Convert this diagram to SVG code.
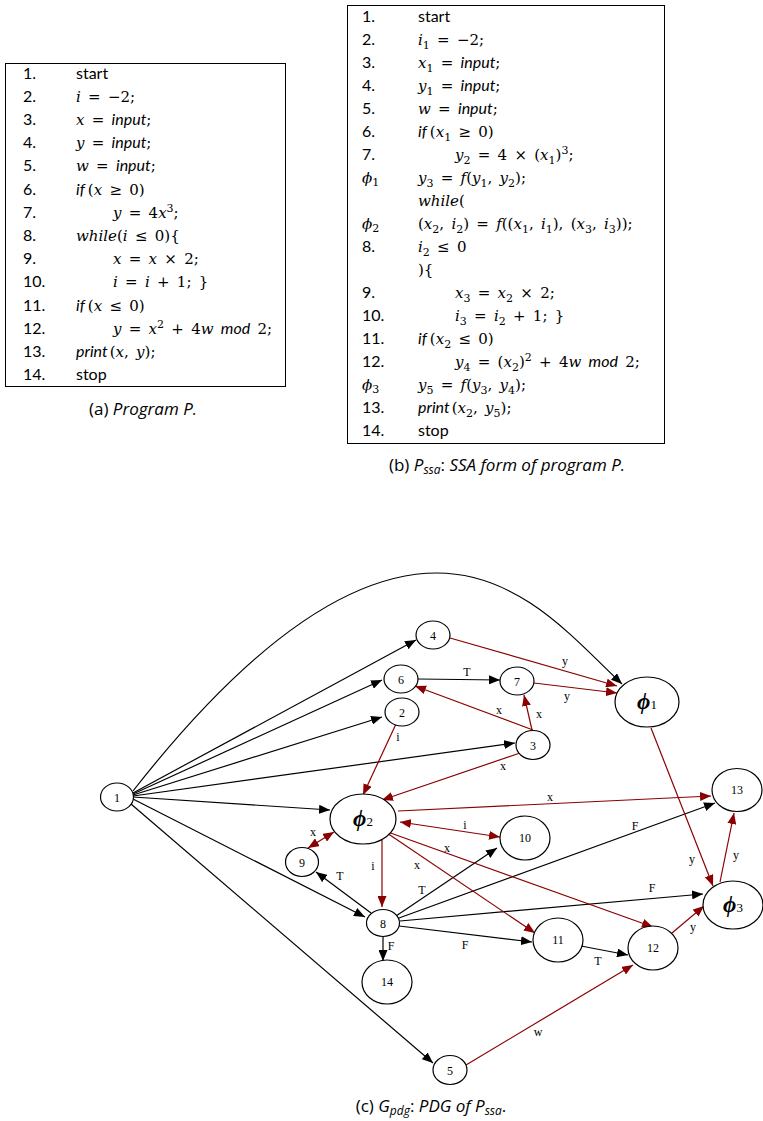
<svg xmlns="http://www.w3.org/2000/svg" width="763" height="1121" viewBox="0 0 763 1121">
<style>
.bg{fill:#fff}
.box{fill:none;stroke:#000;stroke-width:1}
.ln{font-family:"Lato","Open Sans",sans-serif;font-size:16px;fill:#000}
.mt{font-family:"DejaVu Serif","Liberation Serif",serif;font-size:15px;fill:#000;word-spacing:2.5px}
.it{font-style:italic}
.si{font-family:"Lato","Open Sans",sans-serif;font-style:italic;font-size:16px}
.sb{font-size:11px}
.cap{font-family:"Open Sans","Lato",sans-serif;font-size:17px;fill:#000;text-anchor:middle}
.node ellipse{fill:#fff;stroke:#000;stroke-width:1.2}
.nl{font-family:"Liberation Serif","Times New Roman",serif;font-size:12px;text-anchor:middle;fill:#000}
.phi{font-family:"Liberation Serif","DejaVu Serif",serif;font-size:23px;font-style:italic;font-weight:bold;text-anchor:middle}
.ps{font-size:13px;font-weight:normal;font-style:normal}
.k{stroke:#000;stroke-width:1.2;fill:none;marker-end:url(#ak)}
.r{stroke:#8b0000;stroke-width:1.2;fill:none;marker-end:url(#ar)}
.rr{stroke:#8b0000;stroke-width:1.2;fill:none;marker-end:url(#ar);marker-start:url(#ar)}
.el{font-family:"Liberation Serif","Times New Roman",serif;font-size:12px;text-anchor:middle;fill:#000}
</style>
<defs>
<marker id="ak" markerUnits="userSpaceOnUse" markerWidth="11" markerHeight="9" refX="11" refY="4.5" orient="auto-start-reverse"><path d="M0,0 L11,4.5 L0,9 z" fill="#000"/></marker>
<marker id="ar" markerUnits="userSpaceOnUse" markerWidth="11" markerHeight="9" refX="11" refY="4.5" orient="auto-start-reverse"><path d="M0,0 L11,4.5 L0,9 z" fill="#8b0000"/></marker>
</defs>
<rect class="bg" x="0" y="0" width="763" height="1121"/>

<g id="programP">
<rect class="box" x="5.5" y="63.5" width="280" height="323"/>
<g class="ln">
<text x="23" y="78.5">1.</text>
<text x="23" y="101.7">2.</text>
<text x="23" y="124.9">3.</text>
<text x="23" y="148.1">4.</text>
<text x="23" y="171.3">5.</text>
<text x="23" y="194.5">6.</text>
<text x="23" y="217.7">7.</text>
<text x="23" y="240.9">8.</text>
<text x="23" y="264.1">9.</text>
<text x="23" y="287.3">10.</text>
<text x="23" y="310.5">11.</text>
<text x="23" y="333.7">12.</text>
<text x="23" y="356.9">13.</text>
<text x="23" y="380.1">14.</text>
<text x="76" y="78.5">start</text>
<text x="76" y="380.1">stop</text>
</g>
<g class="mt">
<text x="76" y="101.7"><tspan class="it">i</tspan> = −2;</text>
<text x="76" y="124.9"><tspan class="it">x</tspan> = <tspan class="si">input</tspan>;</text>
<text x="76" y="148.1"><tspan class="it">y</tspan> = <tspan class="si">input</tspan>;</text>
<text x="76" y="171.3"><tspan class="it">w</tspan> = <tspan class="si">input</tspan>;</text>
<text x="76" y="194.5"><tspan class="si">if</tspan><tspan dx="3">(</tspan><tspan class="it">x</tspan> ≥ 0)</text>
<text x="113" y="217.7"><tspan class="it">y</tspan> = 4<tspan class="it">x</tspan><tspan class="sb" dy="-6">3</tspan><tspan dy="6">;</tspan></text>
<text x="76" y="240.9"><tspan class="it">while</tspan>(<tspan class="it">i</tspan> ≤ 0){</text>
<text x="113" y="264.1"><tspan class="it">x</tspan> = <tspan class="it">x</tspan> × 2;</text>
<text x="113" y="287.3"><tspan class="it">i</tspan> = <tspan class="it">i</tspan> + 1; }</text>
<text x="76" y="310.5"><tspan class="si">if</tspan><tspan dx="3">(</tspan><tspan class="it">x</tspan> ≤ 0)</text>
<text x="113" y="333.7"><tspan class="it">y</tspan> = <tspan class="it">x</tspan><tspan class="sb" dy="-6">2</tspan><tspan dy="6"> + 4</tspan><tspan class="it">w</tspan> <tspan class="si">mod</tspan> 2;</text>
<text x="76" y="356.9"><tspan class="si">print</tspan><tspan dx="2">(</tspan><tspan class="it">x</tspan>, <tspan class="it">y</tspan>);</text>
</g>
<text class="cap" x="143" y="415">(a) <tspan class="it">Program P.</tspan></text>
</g>

<g id="programPssa">
<rect class="box" x="347.5" y="5.5" width="317" height="438"/>
<g class="ln">
<text x="362" y="21.5">1.</text>
<text x="362" y="44.5">2.</text>
<text x="362" y="67.6">3.</text>
<text x="362" y="90.6">4.</text>
<text x="362" y="113.7">5.</text>
<text x="362" y="136.7">6.</text>
<text x="362" y="159.8">7.</text>
<text x="362" y="251.9">8.</text>
<text x="362" y="298.1">9.</text>
<text x="362" y="321.1">10.</text>
<text x="362" y="344.2">11.</text>
<text x="362" y="367.2">12.</text>
<text x="362" y="413.3">13.</text>
<text x="362" y="436.4">14.</text>
<text x="418" y="21.5">start</text>
<text x="418" y="436.4">stop</text>
</g>
<g class="mt">
<text x="362" y="182.8"><tspan class="it">ϕ</tspan><tspan class="sb" dy="3">1</tspan></text>
<text x="362" y="228.9"><tspan class="it">ϕ</tspan><tspan class="sb" dy="3">2</tspan></text>
<text x="362" y="390.3"><tspan class="it">ϕ</tspan><tspan class="sb" dy="3">3</tspan></text>
<text x="418" y="44.5"><tspan class="it">i</tspan><tspan class="sb" dy="4">1</tspan><tspan dy="-4"> = −2;</tspan></text>
<text x="418" y="67.6"><tspan class="it">x</tspan><tspan class="sb" dy="4">1</tspan><tspan dy="-4"> = </tspan><tspan class="si">input</tspan>;</text>
<text x="418" y="90.6"><tspan class="it">y</tspan><tspan class="sb" dy="4">1</tspan><tspan dy="-4"> = </tspan><tspan class="si">input</tspan>;</text>
<text x="418" y="113.7"><tspan class="it">w</tspan> = <tspan class="si">input</tspan>;</text>
<text x="418" y="136.7"><tspan class="si">if</tspan><tspan dx="3">(</tspan><tspan class="it">x</tspan><tspan class="sb" dy="4">1</tspan><tspan dy="-4"> ≥ 0)</tspan></text>
<text x="455" y="159.8"><tspan class="it">y</tspan><tspan class="sb" dy="4">2</tspan><tspan dy="-4"> = 4 × (</tspan><tspan class="it">x</tspan><tspan class="sb" dy="4">1</tspan><tspan dy="-4">)</tspan><tspan class="sb" dy="-6">3</tspan><tspan dy="6">;</tspan></text>
<text x="418" y="182.8"><tspan class="it">y</tspan><tspan class="sb" dy="4">3</tspan><tspan dy="-4"> = </tspan><tspan class="it">f</tspan>(<tspan class="it">y</tspan><tspan class="sb" dy="4">1</tspan><tspan dy="-4">, </tspan><tspan class="it">y</tspan><tspan class="sb" dy="4">2</tspan><tspan dy="-4">);</tspan></text>
<text x="418" y="205.8"><tspan class="it">while</tspan>(</text>
<text x="418" y="228.9">(<tspan class="it">x</tspan><tspan class="sb" dy="4">2</tspan><tspan dy="-4">, </tspan><tspan class="it">i</tspan><tspan class="sb" dy="4">2</tspan><tspan dy="-4">) = </tspan><tspan class="it">f</tspan>((<tspan class="it">x</tspan><tspan class="sb" dy="4">1</tspan><tspan dy="-4">, </tspan><tspan class="it">i</tspan><tspan class="sb" dy="4">1</tspan><tspan dy="-4">), (</tspan><tspan class="it">x</tspan><tspan class="sb" dy="4">3</tspan><tspan dy="-4">, </tspan><tspan class="it">i</tspan><tspan class="sb" dy="4">3</tspan><tspan dy="-4">));</tspan></text>
<text x="418" y="251.9"><tspan class="it">i</tspan><tspan class="sb" dy="4">2</tspan><tspan dy="-4"> ≤ 0</tspan></text>
<text x="418" y="275">){</text>
<text x="455" y="298.1"><tspan class="it">x</tspan><tspan class="sb" dy="4">3</tspan><tspan dy="-4"> = </tspan><tspan class="it">x</tspan><tspan class="sb" dy="4">2</tspan><tspan dy="-4"> × 2;</tspan></text>
<text x="455" y="321.1"><tspan class="it">i</tspan><tspan class="sb" dy="4">3</tspan><tspan dy="-4"> = </tspan><tspan class="it">i</tspan><tspan class="sb" dy="4">2</tspan><tspan dy="-4"> + 1; }</tspan></text>
<text x="418" y="344.2"><tspan class="si">if</tspan><tspan dx="3">(</tspan><tspan class="it">x</tspan><tspan class="sb" dy="4">2</tspan><tspan dy="-4"> ≤ 0)</tspan></text>
<text x="455" y="367.2"><tspan class="it">y</tspan><tspan class="sb" dy="4">4</tspan><tspan dy="-4"> = (</tspan><tspan class="it">x</tspan><tspan class="sb" dy="4">2</tspan><tspan dy="-4">)</tspan><tspan class="sb" dy="-6">2</tspan><tspan dy="6"> + 4</tspan><tspan class="it">w</tspan> <tspan class="si">mod</tspan> 2;</text>
<text x="418" y="390.3"><tspan class="it">y</tspan><tspan class="sb" dy="4">5</tspan><tspan dy="-4"> = </tspan><tspan class="it">f</tspan>(<tspan class="it">y</tspan><tspan class="sb" dy="4">3</tspan><tspan dy="-4">, </tspan><tspan class="it">y</tspan><tspan class="sb" dy="4">4</tspan><tspan dy="-4">);</tspan></text>
<text x="418" y="413.3"><tspan class="si">print</tspan><tspan dx="2">(</tspan><tspan class="it">x</tspan><tspan class="sb" dy="4">2</tspan><tspan dy="-4">, </tspan><tspan class="it">y</tspan><tspan class="sb" dy="4">5</tspan><tspan dy="-4">);</tspan></text>
</g>
<text class="cap" x="507" y="471">(b) <tspan class="it">P</tspan><tspan class="it" font-size="12" dy="3">ssa</tspan><tspan dy="-3">: </tspan><tspan class="it">SSA form of program P.</tspan></text>
</g>

<g id="connectors">
<path class="k" d="M133,791 C220,680 330,573 437,573 C520,573 575,640 622,684"/>
<line class="k" x1="133" y1="793" x2="416" y2="640"/>
<line class="k" x1="133" y1="794" x2="382" y2="680"/>
<line class="k" x1="133" y1="795" x2="382" y2="717"/>
<line class="k" x1="133" y1="796" x2="515" y2="743"/>
<line class="k" x1="133" y1="797" x2="330" y2="810"/>
<line class="k" x1="133" y1="799" x2="365" y2="917"/>
<line class="k" x1="131" y1="804" x2="433" y2="1063"/>
<line class="k" x1="418" y1="679" x2="500" y2="680"/>
<line class="k" x1="371" y1="913" x2="316" y2="872"/>
<line class="k" x1="396" y1="916" x2="497" y2="848"/>
<line class="k" x1="399" y1="918" x2="715" y2="803"/>
<line class="k" x1="400" y1="921" x2="703" y2="894"/>
<line class="k" x1="399" y1="926" x2="532" y2="942"/>
<line class="k" x1="383" y1="937" x2="383" y2="961"/>
<line class="k" x1="581" y1="946" x2="628" y2="955"/>
<line class="r" x1="450" y1="638" x2="617" y2="686"/>
<line class="r" x1="534" y1="683" x2="617" y2="693"/>
<line class="r" x1="533" y1="730" x2="415" y2="686"/>
<line class="r" x1="532" y1="730" x2="524" y2="695"/>
<line class="r" x1="520" y1="753" x2="382" y2="800"/>
<line class="r" x1="396" y1="724" x2="363" y2="795"/>
<line class="r" x1="398" y1="811" x2="711" y2="796"/>
<line class="rr" x1="400" y1="822" x2="500" y2="837"/>
<line class="rr" x1="334" y1="832" x2="308" y2="848"/>
<line class="r" x1="382" y1="836" x2="382" y2="907"/>
<line class="r" x1="387" y1="833" x2="535" y2="933"/>
<line class="r" x1="385" y1="831" x2="653" y2="927"/>
<line class="r" x1="651" y1="728" x2="713" y2="886"/>
<line class="r" x1="720" y1="882" x2="734" y2="813"/>
<line class="r" x1="672" y1="933" x2="704" y2="906"/>
<line class="r" x1="466" y1="1065" x2="633" y2="965"/>
<g class="el">
<text x="467" y="676">T</text>
<text x="340" y="880">T</text>
<text x="422" y="894">T</text>
<text x="635" y="830">F</text>
<text x="652" y="892">F</text>
<text x="465" y="949">F</text>
<text x="391" y="950">F</text>
<text x="598" y="965">T</text>
<text x="565" y="665">y</text>
<text x="567" y="700">y</text>
<text x="499" y="714">x</text>
<text x="539" y="718">x</text>
<text x="503" y="770">x</text>
<text x="398" y="741">i</text>
<text x="550" y="801">x</text>
<text x="465" y="829">i</text>
<text x="313" y="836">x</text>
<text x="373" y="870">i</text>
<text x="417" y="869">x</text>
<text x="447" y="852">x</text>
<text x="692" y="863">y</text>
<text x="736" y="859">y</text>
<text x="693" y="931">y</text>
<text x="538" y="1036">w</text>
</g>
</g>

<g id="n1" class="node"><ellipse cx="117" cy="797" rx="16.5" ry="14"/><text class="nl" x="117" y="801.5" font-size="13">1</text></g>
<g id="n4" class="node"><ellipse cx="433" cy="635" rx="17" ry="14"/><text class="nl" x="433" y="639.5">4</text></g>
<g id="n6" class="node"><ellipse cx="401" cy="679" rx="17" ry="14"/><text class="nl" x="401" y="683.5">6</text></g>
<g id="n7" class="node"><ellipse cx="517" cy="681" rx="17" ry="14"/><text class="nl" x="517" y="685.5">7</text></g>
<g id="n2" class="node"><ellipse cx="402" cy="712" rx="17" ry="14"/><text class="nl" x="402" y="716.5">2</text></g>
<g id="n3" class="node"><ellipse cx="533" cy="745" rx="17" ry="14.5"/><text class="nl" x="533" y="749.5">3</text></g>
<g id="phi1" class="node"><ellipse cx="647" cy="702" rx="32" ry="25"/><text class="phi" x="647" y="709">ϕ<tspan class="ps">1</tspan></text></g>
<g id="n13" class="node"><ellipse cx="737" cy="790" rx="25" ry="21.5"/><text class="nl" x="737" y="794">13</text></g>
<g id="phi2" class="node"><ellipse cx="363" cy="819" rx="33" ry="25"/><text class="phi" x="363" y="826">ϕ<tspan class="ps">2</tspan></text></g>
<g id="n10" class="node"><ellipse cx="525" cy="838" rx="25" ry="22"/><text class="nl" x="525" y="842">10</text></g>
<g id="n9" class="node"><ellipse cx="302" cy="862" rx="16.5" ry="14.5"/><text class="nl" x="302" y="866.5">9</text></g>
<g id="n8" class="node"><ellipse cx="383" cy="923" rx="16.5" ry="13.5"/><text class="nl" x="383" y="927.5">8</text></g>
<g id="n11" class="node"><ellipse cx="558" cy="940" rx="25" ry="22"/><text class="nl" x="558" y="944">11</text></g>
<g id="n12" class="node"><ellipse cx="653" cy="948" rx="25" ry="22"/><text class="nl" x="653" y="952">12</text></g>
<g id="phi3" class="node"><ellipse cx="733" cy="905" rx="30" ry="24"/><text class="phi" x="733" y="912">ϕ<tspan class="ps">3</tspan></text></g>
<g id="n14" class="node"><ellipse cx="387" cy="982" rx="25" ry="22"/><text class="nl" x="387" y="986">14</text></g>
<g id="n5" class="node"><ellipse cx="450" cy="1070" rx="17" ry="14.5"/><text class="nl" x="450" y="1074.5">5</text></g>

<text class="cap" x="431" y="1112">(c) <tspan class="it">G</tspan><tspan class="it" font-size="12" dy="3">pdg</tspan><tspan dy="-3">: </tspan><tspan class="it">PDG of P</tspan><tspan class="it" font-size="12" dy="3">ssa</tspan><tspan dy="-3">.</tspan></text>
</svg>
